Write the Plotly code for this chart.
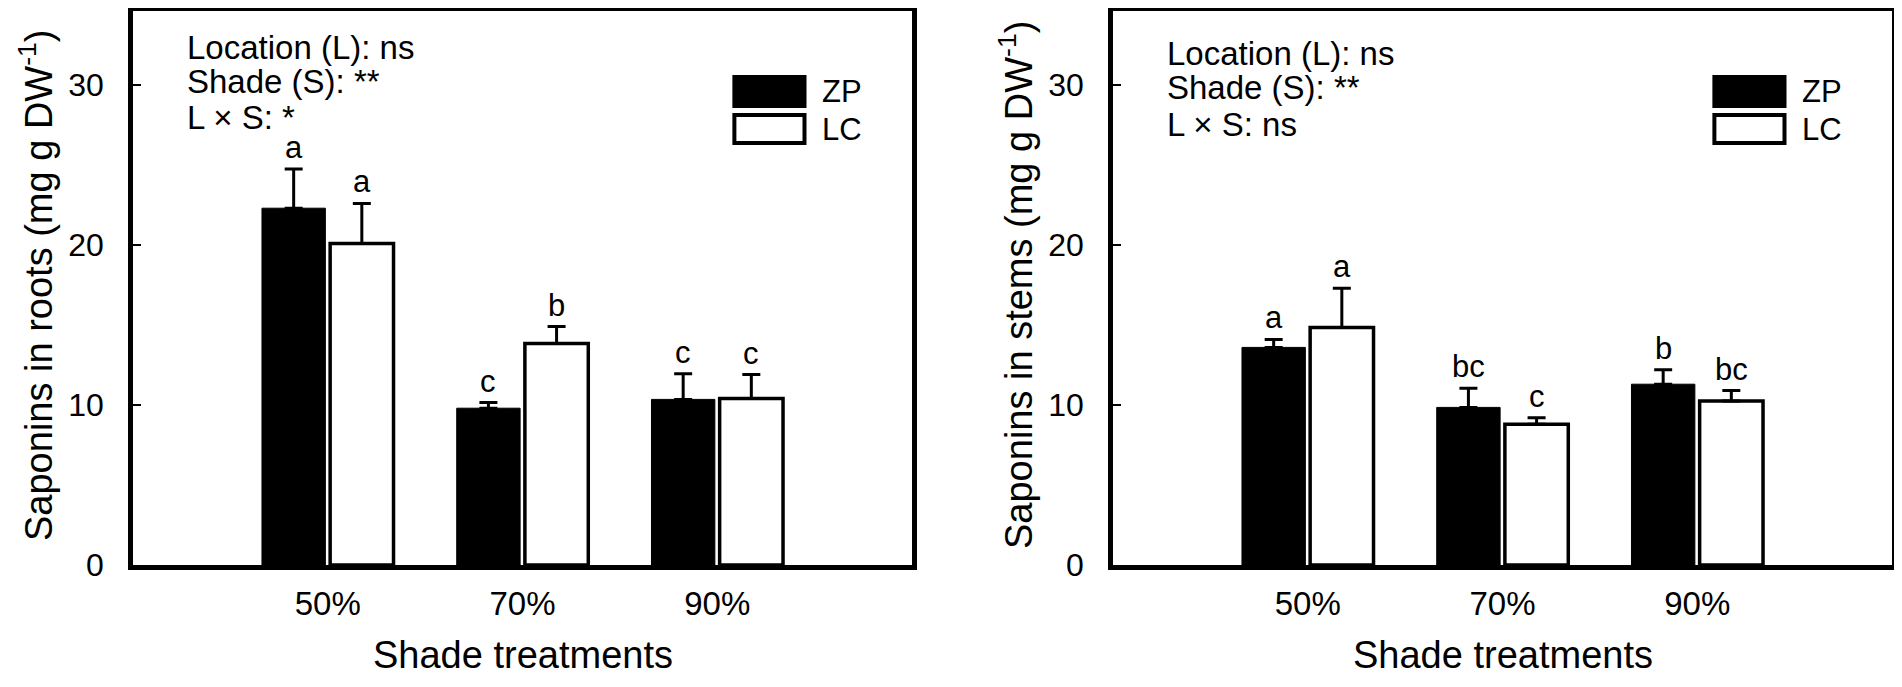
import plotly.graph_objects as go

# shade treatments on the x axis
shades = ["50%", "70%", "90%"]
positions = [1, 2, 3]

# saponins in roots (mg g DW-1)
roots_zp = [22.3, 9.8, 10.35]
roots_zp_err = [2.45, 0.35, 1.6]
roots_lc = [20.1, 13.85, 10.4]
roots_lc_err = [2.5, 1.05, 1.5]
roots_zp_letters = ["a", "c", "c"]
roots_lc_letters = ["a", "b", "c"]
roots_stats = ["Location (L): ns", "Shade (S): **", "L \u00d7 S: *"]

# saponins in stems (mg g DW-1)
stems_zp = [13.6, 9.85, 11.3]
stems_zp_err = [0.5, 1.2, 0.9]
stems_lc = [14.85, 8.8, 10.25]
stems_lc_err = [2.45, 0.4, 0.65]
stems_zp_letters = ["a", "bc", "b"]
stems_lc_letters = ["a", "c", "bc"]
stems_stats = ["Location (L): ns", "Shade (S): **", "L \u00d7 S: ns"]

y_ticks = [0, 10, 20, 30]

FONT = "Liberation Sans, Arial, sans-serif"
# the page body has an 8px margin, so the figure is a bit smaller than the window
PAGE_MARGIN = 8
W, H = 1902 - 2 * PAGE_MARGIN, 687 - 2 * PAGE_MARGIN
BARGAP = 0.30
HALF = (1 - BARGAP) / 4  # centre offset of each bar within a group


def px2x(px):
    """window pixel -> paper x"""
    return (px - PAGE_MARGIN) / W


def px2y(py):
    """window pixel -> paper y"""
    return 1 - (py - PAGE_MARGIN) / H


panels = [
    dict(zp=roots_zp, zp_err=roots_zp_err, lc=roots_lc, lc_err=roots_lc_err,
         zp_let=roots_zp_letters, lc_let=roots_lc_letters, stats=roots_stats,
         ytitle="Saponins in roots (mg g DW<sup>-1</sup>)",
         x0=133, x1=912, stat_y=[47, 82, 118]),
    dict(zp=stems_zp, zp_err=stems_zp_err, lc=stems_lc, lc_err=stems_lc_err,
         zp_let=stems_zp_letters, lc_let=stems_lc_letters, stats=stems_stats,
         ytitle="Saponins in stems (mg g DW<sup>-1</sup>)",
         x0=1113, x1=1892, stat_y=[53, 88, 125]),
]

# frame in the reference runs from y=5 (value 35) to y=565 (value 0);
# the top has to sit below the page margin, so trim the range to match
PLOT_BOTTOM = 565
PLOT_TOP = 10.5
Y_MAX = 35 * (PLOT_BOTTOM - PLOT_TOP) / (PLOT_BOTTOM - 5)
ydom = [px2y(PLOT_BOTTOM), px2y(PLOT_TOP)]


def ydom_frac(py):
    return (PLOT_BOTTOM - py) / (PLOT_BOTTOM - PLOT_TOP)


fig = go.Figure()
annotations = []
shapes = []

for i, p in enumerate(panels, 1):
    sx = "" if i == 1 else str(i)
    xa, ya = "x" + sx, "y" + sx

    fig.add_trace(go.Bar(
        x=positions, y=p["zp"], name="ZP", xaxis=xa, yaxis=ya,
        marker=dict(color="black", line=dict(color="black", width=1)),
        error_y=dict(type="data", array=p["zp_err"], arrayminus=[0] * 3,
                     symmetric=False, color="black", thickness=3, width=9),
        showlegend=False,
    ))
    fig.add_trace(go.Bar(
        x=positions, y=p["lc"], name="LC", xaxis=xa, yaxis=ya,
        marker=dict(color="white", line=dict(color="black", width=3.5)),
        error_y=dict(type="data", array=p["lc_err"], arrayminus=[0] * 3,
                     symmetric=False, color="black", thickness=3, width=9),
        showlegend=False,
    ))

    # significance letters above the error bars
    for pos, v, e, t in zip(positions, p["zp"], p["zp_err"], p["zp_let"]):
        annotations.append(dict(x=pos - HALF, y=v + e, xref=xa, yref=ya, text=t,
                                showarrow=False, xanchor="center", yanchor="bottom",
                                yshift=2, font=dict(size=31)))
    for pos, v, e, t in zip(positions, p["lc"], p["lc_err"], p["lc_let"]):
        annotations.append(dict(x=pos + HALF, y=v + e, xref=xa, yref=ya, text=t,
                                showarrow=False, xanchor="center", yanchor="bottom",
                                yshift=2, font=dict(size=31)))

    # ANOVA summary
    for line, py in zip(p["stats"], p["stat_y"]):
        annotations.append(dict(x=0.067, y=ydom_frac(py), xref=xa + " domain",
                                yref=ya + " domain", text=line, showarrow=False,
                                xanchor="left", yanchor="middle",
                                font=dict(size=33)))

    # legend boxes
    for name, fill, top, bot in [("ZP", "black", 77, 106), ("LC", "white", 115, 143)]:
        shapes.append(dict(type="rect", xref=xa + " domain", yref=ya + " domain",
                           x0=0.772, x1=0.862, y0=ydom_frac(bot), y1=ydom_frac(top),
                           fillcolor=fill, line=dict(color="black", width=4)))
        annotations.append(dict(x=0.882, y=ydom_frac((top + bot) / 2),
                                xref=xa + " domain", yref=ya + " domain",
                                text=name, showarrow=False, xanchor="left",
                                yanchor="middle", font=dict(size=31)))

    # axis titles
    annotations.append(dict(x=px2x(p["x0"] - 97), y=px2y(285), xref="paper",
                            yref="paper", text=p["ytitle"], textangle=-90,
                            xanchor="center", yanchor="middle",
                            showarrow=False, font=dict(size=38)))
    annotations.append(dict(x=px2x((p["x0"] + p["x1"]) / 2), y=px2y(655),
                            xref="paper", yref="paper", text="Shade treatments",
                            xanchor="center", yanchor="middle",
                            showarrow=False, font=dict(size=38)))

    axis_line = dict(showline=True, mirror=True, linecolor="black", showgrid=False,
                     zeroline=False, automargin=False)
    fig.update_layout({
        "xaxis" + sx: dict(domain=[px2x(p["x0"]), px2x(p["x1"])], range=[0, 4],
                           tickvals=positions, ticktext=shades, ticks="",
                           linewidth=5, tickfont=dict(size=33),
                           ticklabelstandoff=5, anchor=ya, **axis_line),
        "yaxis" + sx: dict(domain=ydom, range=[0, Y_MAX], tickvals=y_ticks,
                           ticks="inside", ticklen=8, tickwidth=2, tickcolor="black",
                           linewidth=4.5, tickfont=dict(size=32),
                           ticklabelstandoff=18, anchor=xa, **axis_line),
    })

fig.update_layout(
    template="none",
    width=W, height=H,
    margin=dict(l=0, r=0, t=0, b=0),
    barmode="group", bargap=BARGAP, bargroupgap=0.07,
    plot_bgcolor="white", paper_bgcolor="white",
    font=dict(family=FONT, color="black"),
    annotations=annotations, shapes=shapes,
)

fig.write_html("out.html")
